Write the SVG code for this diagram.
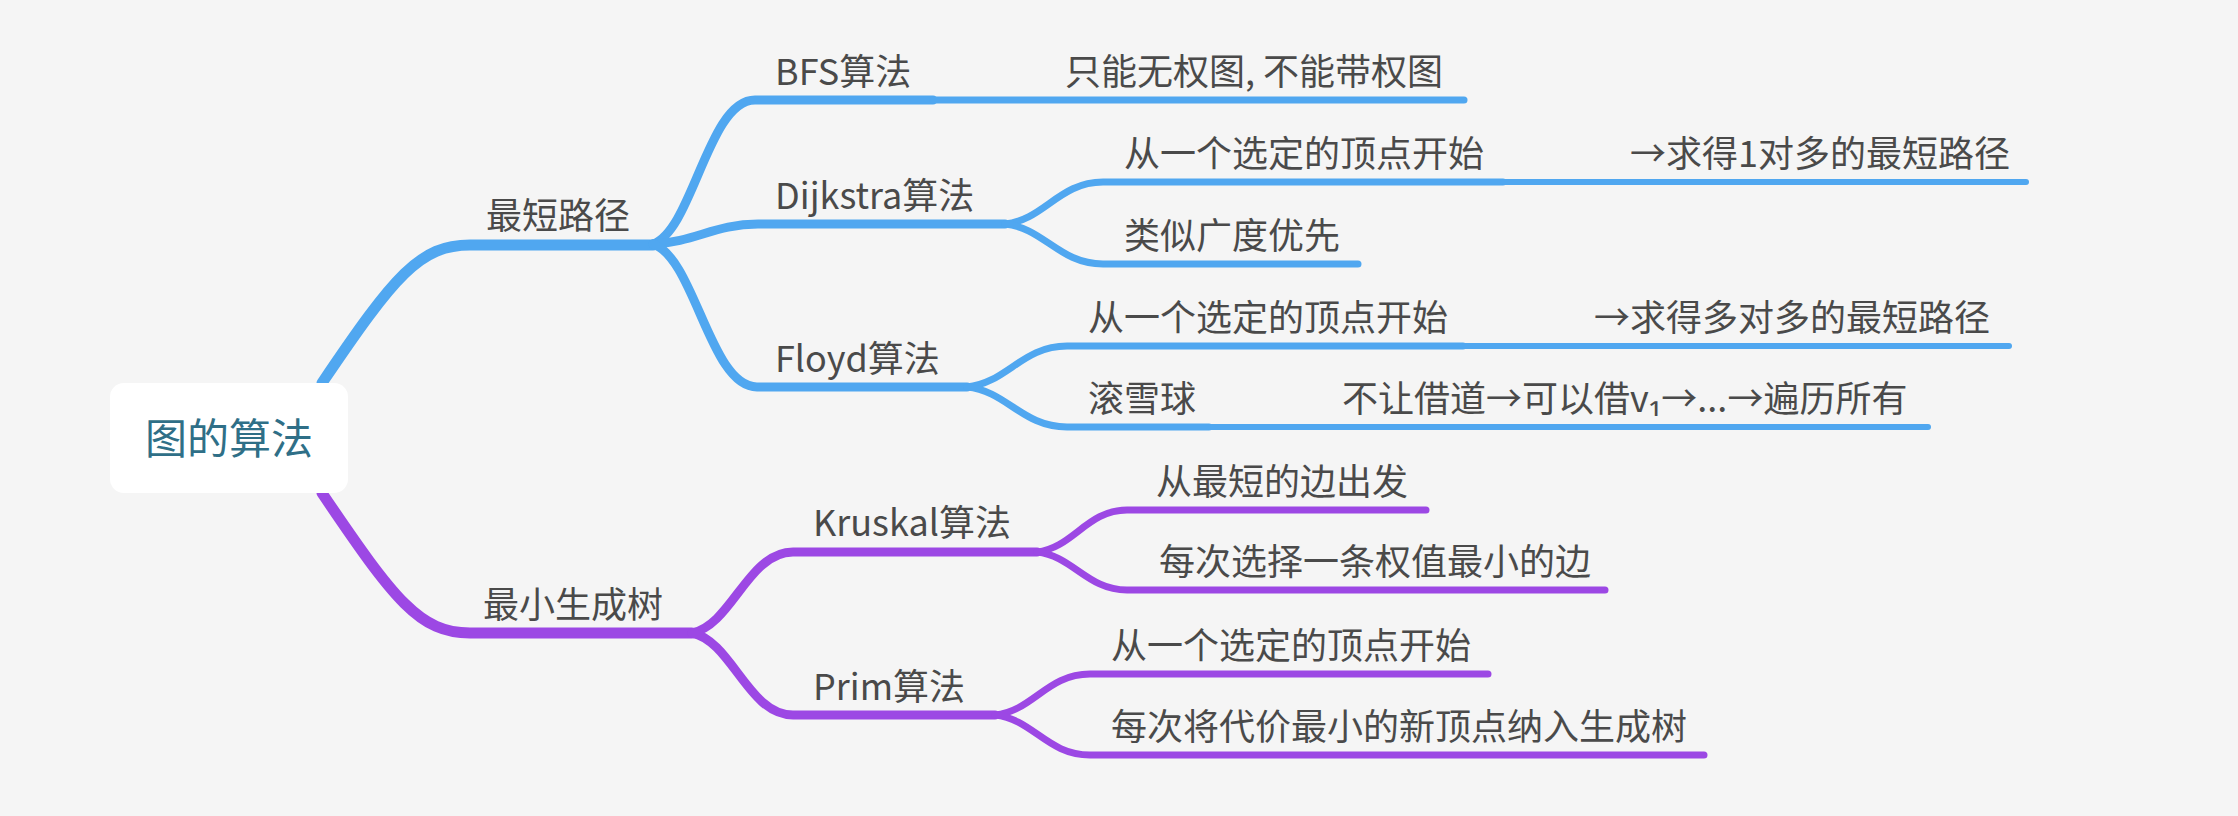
<svg xmlns="http://www.w3.org/2000/svg" width="2238" height="816" viewBox="0 0 2238 816">
<style>
.bg{fill:#f5f5f5}
.ln{fill:none;stroke-linecap:round;stroke-linejoin:round}
.b{stroke:#50a7f0}
.p{stroke:#9c48e4}
.l1{stroke-width:11}
.l2{stroke-width:9}
.l3{stroke-width:7}
.l4{stroke-width:6}
.t{font-family:"Noto Sans CJK SC","Noto Sans",sans-serif;font-size:36px;fill:#4a4a4a}
.root{fill:#ffffff}
.rt{font-family:"Noto Sans CJK SC","Noto Sans",sans-serif;font-size:42px;fill:#2f6f87;text-anchor:middle}
</style>
<rect class="bg" x="0" y="0" width="2238" height="816"/>
<g id="connectors">
  <path class="ln b l1" d="M322 383 C395 275 420 245 470 245 H653"/>
  <path class="ln p l1" d="M322 493 C395 601 420 633 470 633 H692"/>
  <path class="ln b l2" d="M653 244 C693 230 708 100 755 100 H933"/>
  <path class="ln b l2" d="M653 244 C695 242 715 224 758 224 H1005"/>
  <path class="ln b l2" d="M653 244 C695 258 710 387 757 387 H967"/>
  <path class="ln b l3" d="M933 100 H1464"/>
  <path class="ln b l3" d="M1005 224 C1044 220 1059 182 1103 182 H1503"/>
  <path class="ln b l3" d="M1005 224 C1044 228 1059 264 1103 264 H1358"/>
  <path class="ln b l4" d="M1503 182 H2026"/>
  <path class="ln b l3" d="M967 387 C1007 383 1022 346 1067 346 H1463"/>
  <path class="ln b l3" d="M967 387 C1007 391 1022 427 1067 427 H1209"/>
  <path class="ln b l4" d="M1463 346 H2009"/>
  <path class="ln b l4" d="M1209 427 H1928"/>
  <path class="ln p l2" d="M692 633 C732 625 748 552 793 552 H1037"/>
  <path class="ln p l2" d="M692 633 C732 641 748 715 793 715 H995"/>
  <path class="ln p l3" d="M1037 552 C1073 548 1087 510 1127 510 H1426"/>
  <path class="ln p l3" d="M1037 552 C1073 556 1087 590 1127 590 H1605"/>
  <path class="ln p l3" d="M995 715 C1033 711 1047 674 1090 674 H1488"/>
  <path class="ln p l3" d="M995 715 C1033 719 1047 755 1090 755 H1704"/>
</g>
<g id="root"><rect class="root" x="110" y="383" width="238" height="110" rx="14"/><text class="rt" x="229" y="454">图的算法</text></g>
<g id="n-shortest"><text class="t" x="486" y="229">最短路径</text></g>
<g id="n-mst"><text class="t" x="483" y="618">最小生成树</text></g>
<g id="n-bfs"><text class="t" x="775" y="85">BFS算法</text></g>
<g id="n-dijkstra"><text class="t" x="775" y="209">Dijkstra算法</text></g>
<g id="n-floyd"><text class="t" x="775" y="372">Floyd算法</text></g>
<g id="n-kruskal"><text class="t" x="813" y="536">Kruskal算法</text></g>
<g id="n-prim"><text class="t" x="813" y="700">Prim算法</text></g>
<g id="n-bfs-1"><text class="t" x="1065" y="85">只能无权图, 不能带权图</text></g>
<g id="n-dij-1"><text class="t" x="1124" y="167">从一个选定的顶点开始</text></g>
<g id="n-dij-1-1"><text class="t" x="1630" y="167">→求得1对多的最短路径</text></g>
<g id="n-dij-2"><text class="t" x="1124" y="249">类似广度优先</text></g>
<g id="n-floyd-1"><text class="t" x="1088" y="331">从一个选定的顶点开始</text></g>
<g id="n-floyd-1-1"><text class="t" x="1594" y="331">→求得多对多的最短路径</text></g>
<g id="n-floyd-2"><text class="t" x="1088" y="412">滚雪球</text></g>
<g id="n-floyd-2-1"><text class="t" x="1342" y="412">不让借道→可以借v₁→...→遍历所有</text></g>
<g id="n-kruskal-1"><text class="t" x="1156" y="495">从最短的边出发</text></g>
<g id="n-kruskal-2"><text class="t" x="1159" y="575">每次选择一条权值最小的边</text></g>
<g id="n-prim-1"><text class="t" x="1111" y="659">从一个选定的顶点开始</text></g>
<g id="n-prim-2"><text class="t" x="1111" y="740">每次将代价最小的新顶点纳入生成树</text></g>
</svg>
